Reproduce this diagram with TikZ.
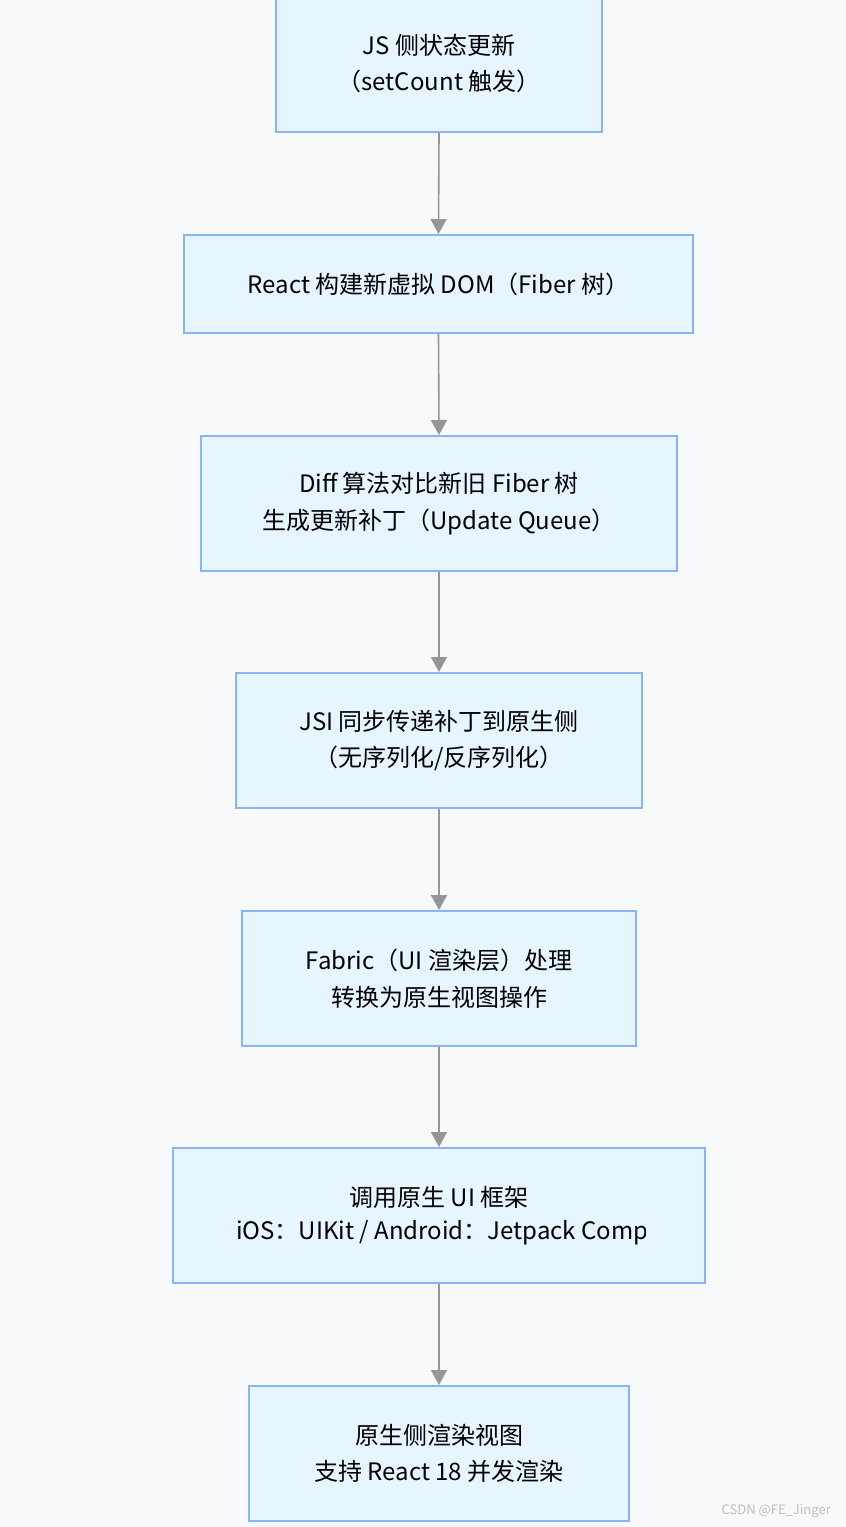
\documentclass[tikz,border=0pt]{standalone}
\usepackage{fontspec}
\setmainfont{Noto Sans CJK SC}
\usetikzlibrary{arrows.meta}
\definecolor{bgcol}{RGB}{248,249,251}
\definecolor{boxfill}{RGB}{230,245,255}
\definecolor{boxline}{RGB}{138,180,248}
\definecolor{arrcol}{RGB}{150,150,150}
\definecolor{wmcol}{RGB}{190,190,190}
\tikzset{
  box/.style={draw=boxline, fill=boxfill, line width=2pt, rectangle, inner sep=0pt, align=center,
    font=\fontsize{24}{36.5}\selectfont},
  flowarrow/.style={draw=arrcol, line width=1.6pt, -{Triangle[length=15pt,width=16pt]}},
  lbl/.style={inner sep=0pt, font=\fontsize{24}{36.5}\selectfont}
}
\begin{document}
\begin{tikzpicture}[x=1pt,y=-1pt]
\fill[bgcol] (0,0) rectangle (846,1527);
\useasboundingbox (0,0) rectangle (846,1527);
\node[box, minimum width=326, minimum height=137] (b1) at (439,63.5) {JS 侧状态更新\\（setCount 触发）};
\node[box, minimum width=509, minimum height=98] (b2) at (438.5,284) {React 构建新虚拟 DOM（Fiber 树）};
\node[box, minimum width=476, minimum height=135] (b3) at (439,503.5) {Diff 算法对比新旧 Fiber 树\\生成更新补丁（Update Queue）};
\node[box, minimum width=406, minimum height=135] (b4) at (439,740.5) {JSI 同步传递补丁到原生侧\\（无序列化/反序列化）};
\node[box, minimum width=394, minimum height=135] (b5) at (439,978.5) {Fabric（UI 渲染层）处理\\转换为原生视图操作};
\node[box, minimum width=532, minimum height=135] (b6) at (439,1215.5) {};
\node[lbl] (b6a) at (439,1197) {调用原生 UI 框架};
\begin{scope}
\clip (176,1150) rectangle (645,1281);
\node[lbl, anchor=west] (b6b) at (236,1233) {iOS：UIKit / Android：Jetpack Compose};
\end{scope}
\node[box, minimum width=380, minimum height=135] (b7) at (439,1453.5) {原生侧渲染视图\\支持 React 18 并发渲染};
\draw[flowarrow] (b1.south) -- (b2.north);
\draw[flowarrow] (b2.south) -- (b3.north);
\draw[flowarrow] (b3.south) -- (b4.north);
\draw[flowarrow] (b4.south) -- (b5.north);
\draw[flowarrow] (b5.south) -- (b6.north);
\draw[flowarrow] (b6.south) -- (b7.north);
\node[anchor=east, inner sep=0pt, text=wmcol, font=\fontsize{13}{15}\selectfont] (wm) at (831,1511) {CSDN @FE\_Jinger};
\end{tikzpicture}
\end{document}
